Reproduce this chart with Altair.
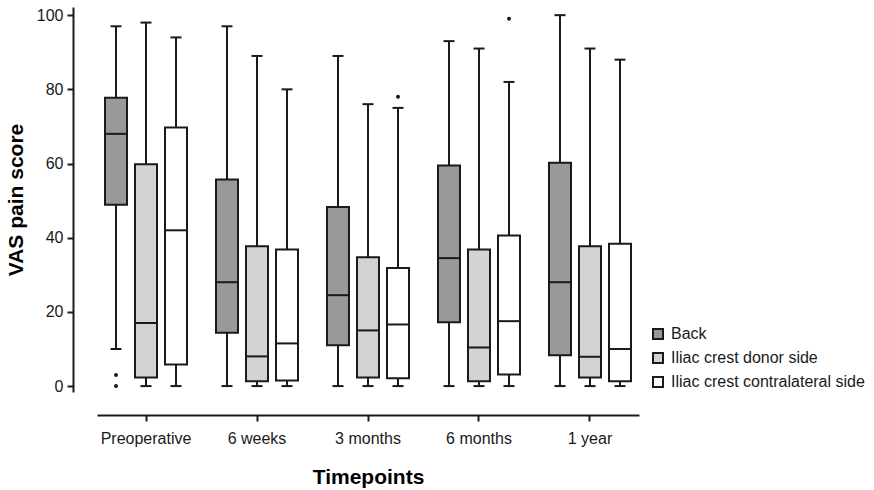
import altair as alt
import pandas as pd

timepoints = ["Preoperative", "6 weeks", "3 months", "6 months", "1 year"]
series = ["Back", "Iliac crest donor side", "Iliac crest contralateral side"]
colors = ["#999999", "#d3d3d3", "#ffffff"]

# per series, per timepoint
lower = {
    "Back": [10, 0, 0, 0, 0],
    "Iliac crest donor side": [0, 0, 0, 0, 0],
    "Iliac crest contralateral side": [0, 0, 0, 0, 0],
}
q1 = {
    "Back": [48.9, 14.4, 11.0, 17.2, 8.3],
    "Iliac crest donor side": [2.3, 1.3, 2.3, 1.3, 2.3],
    "Iliac crest contralateral side": [5.8, 1.5, 2.1, 3.1, 1.3],
}
median = {
    "Back": [68.0, 28.0, 24.5, 34.5, 28.0],
    "Iliac crest donor side": [17.0, 8.0, 15.0, 10.4, 7.9],
    "Iliac crest contralateral side": [42.0, 11.5, 16.6, 17.5, 10.0],
}
q3 = {
    "Back": [77.7, 55.7, 48.3, 59.5, 60.2],
    "Iliac crest donor side": [59.8, 37.7, 34.7, 36.8, 37.7],
    "Iliac crest contralateral side": [69.7, 36.8, 31.8, 40.6, 38.4],
}
upper = {
    "Back": [97, 97, 89, 93, 100],
    "Iliac crest donor side": [98, 89, 76, 91, 91],
    "Iliac crest contralateral side": [94, 80, 75, 82, 88],
}
outlier_time = ["Preoperative", "Preoperative", "3 months", "6 months"]
outlier_series = ["Back", "Back", "Iliac crest contralateral side", "Iliac crest contralateral side"]
outlier_value = [3, 0, 78, 99]

rows = []
for s in series:
    for i, t in enumerate(timepoints):
        rows.append(dict(time=t, series=s, lo=lower[s][i], q1=q1[s][i],
                         med=median[s][i], q3=q3[s][i], hi=upper[s][i]))
df = pd.DataFrame(rows)
out = pd.DataFrame(dict(time=outlier_time, series=outlier_series, v=outlier_value))

FONT = "Liberation Sans"
ink = "#1a1a1a"

xscale = alt.Scale(paddingInner=0.117, paddingOuter=0)
xoscale = alt.Scale(domain=series, paddingInner=0.2667, paddingOuter=0.2667)

x = alt.X("time:N", sort=timepoints, scale=xscale,
          axis=alt.Axis(title="Timepoints", labelAngle=0, offset=23, domainColor=ink,
                        domainWidth=2, tickColor=ink, tickWidth=2, tickSize=6,
                        labelFontSize=16, labelColor=ink, labelPadding=9,
                        labelFont=FONT, titleFont=FONT,
                        titleFontSize=21, titleFontWeight="bold", titlePadding=20,
                        titleColor="#000000"))
xo = alt.XOffset("series:N", sort=series, scale=xoscale)
yscale = alt.Scale(domain=[-1.6, 102.2], nice=False, zero=False)

base = alt.Chart(df)

whisk = base.mark_rule(color=ink, strokeWidth=2).encode(
    x=x, xOffset=xo,
    y=alt.Y("lo:Q", scale=yscale,
            axis=alt.Axis(title="VAS pain score", values=[0, 20, 40, 60, 80, 100],
                          offset=24, domainColor=ink, domainWidth=2, tickColor=ink,
                          tickWidth=2, tickSize=6, labelFontSize=16, labelColor=ink,
                          labelFont=FONT, titleFont=FONT,
                          labelPadding=4, titleFontSize=21, titleFontWeight="bold",
                          titleColor="#000000", titlePadding=10, grid=False)),
    y2="hi:Q")

capl = base.mark_tick(color=ink, thickness=2, size=11, opacity=1).encode(
    x=x, xOffset=xo, y=alt.Y("lo:Q", scale=yscale))
caph = base.mark_tick(color=ink, thickness=2, size=11, opacity=1).encode(
    x=x, xOffset=xo, y=alt.Y("hi:Q", scale=yscale))

box = base.mark_bar(stroke=ink, strokeWidth=2, opacity=1).encode(
    x=x, xOffset=xo,
    y=alt.Y("q1:Q", scale=yscale), y2="q3:Q",
    fill=alt.Fill("series:N", sort=series,
                  scale=alt.Scale(domain=series, range=colors),
                  legend=alt.Legend(title=None, orient="none", legendX=553, legendY=319,
                                    symbolType="square", symbolSize=100,
                                    symbolStrokeColor=ink, symbolStrokeWidth=2,
                                    labelFontSize=16, labelColor=ink, rowPadding=6,
                                    labelFont=FONT, labelLimit=400,
                                    labelOffset=5, symbolOpacity=1)))

med = base.mark_tick(color=ink, thickness=2, size=22, opacity=1).encode(
    x=x, xOffset=xo, y=alt.Y("med:Q", scale=yscale))

pts = alt.Chart(out).mark_circle(color=ink, size=16, opacity=1).encode(
    x=alt.X("time:N", sort=timepoints, scale=xscale),
    xOffset=alt.XOffset("series:N", sort=series, scale=xoscale),
    y=alt.Y("v:Q", scale=yscale))

chart = alt.layer(whisk, capl, caph, box, med, pts).properties(
    width=542, height=385,
    autosize=alt.AutoSizeParams(type="none"),
    padding={"left": 97, "top": 7, "right": 235, "bottom": 98},
).configure(font=FONT).configure_axis(grid=False).configure_view(stroke=None, strokeWidth=0)

chart.save("out.html", embed_options={"renderer": "svg", "actions": False})
